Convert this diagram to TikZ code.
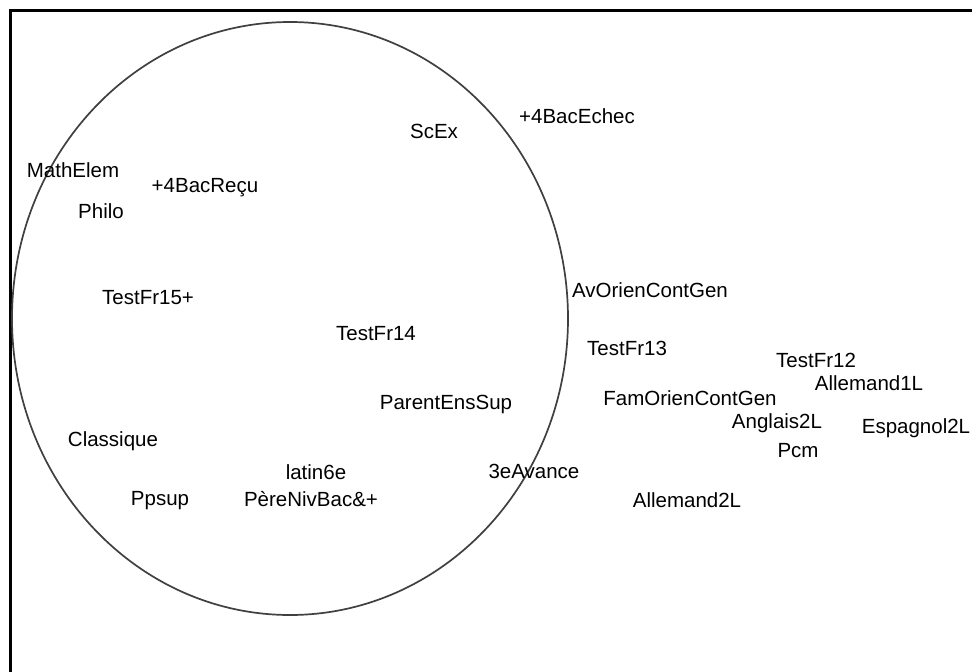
\documentclass[tikz,border=0pt]{standalone}
\usepackage{fontspec}
\setmainfont{Liberation Sans}
\begin{document}
\begin{tikzpicture}[x=1pt,y=-1pt]

\def \cx {290}
\def \cy {318.5}
\def \rx {278}
\def \ry {296.5} % the circle is slightly taller than wide

\useasboundingbox (0,0) rectangle (972,672);
\fill[white] (0,0) rectangle (972,672);
\draw[line width=2.2pt] (10.5,672) -- (10.5,10.5) -- (972,10.5);
\draw[line width=1.7pt, black!75] (\cx,\cy) ellipse [x radius=\rx, y radius=\ry];

\begin{scope}[every node/.style={inner sep=0, anchor=base, font=\fontsize{20.5}{24}\selectfont}]
\foreach \lbl/\x/\y/\nm in {
  ScEx/434/138/scex, +4BacEchec/577/123/bacechec, MathElem/73/177/mathelem,
  +4BacReçu/205/192/bacrecu, Philo/101/218/philo, TestFr15+/148/304/fra,
  AvOrienContGen/650/297/avorien, TestFr14/376/340/frb, TestFr13/627/355/frc,
  TestFr12/816/367/frd, Allemand1L/869/390/allemun, ParentEnsSup/446/409/parent,
  FamOrienContGen/690/405/famorien, Anglais2L/777/428/anglais,
  Espagnol2L/916/433/espagnol, Pcm/798/457/pcm, Classique/113/446/classique,
  latin6e/316/479/latin, 3eAvance/534/478/avance, Allemand2L/687/507/allemdeux,
  Ppsup/160/505/ppsup, PèreNivBac\&+/311/506/pere}
{
  \node (\nm) at (\x,\y) {\lbl};
}
\end{scope}

\end{tikzpicture}
\end{document}
